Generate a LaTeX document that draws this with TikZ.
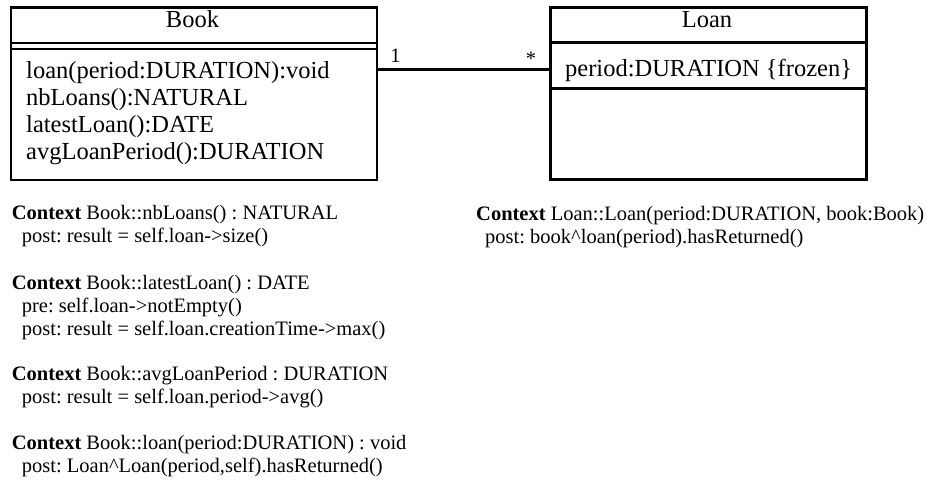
\documentclass[tikz,border=0pt]{standalone}
\usepackage{fontspec}
\setmainfont{Liberation Serif}
\frenchspacing
\begin{document}
\begin{tikzpicture}[x=1pt,y=-1pt,
  classbox/.style={draw, line width=2.6pt, inner sep=0pt, anchor=north west},
  sepline/.style={line width=2.4pt},
  assocline/.style={line width=2.6pt},
  classname/.style={anchor=base, inner sep=0pt, font=\fontsize{24.5}{26.7}\selectfont},
  member/.style={anchor=base west, inner sep=0pt, font=\fontsize{24.5}{26.7}\selectfont},
  ocl/.style={anchor=base west, inner sep=0pt, font=\fontsize{20.5}{23.3}\selectfont},
  mult/.style={anchor=center, inner sep=0pt, font=\fontsize{20.5}{24}\selectfont}]
\useasboundingbox (0,0) rectangle (931,483);

% class boxes
\node[classbox, minimum width=366pt, minimum height=172.5pt] (book) at (9.5,6) {};
\node[classbox, minimum width=316pt, minimum height=172pt] (loan) at (549,6) {};

% Book compartments (double line under the name)
\draw[sepline] ([yshift=-36.7pt]book.north west) -- ([yshift=-36.7pt]book.north east);
\draw[sepline] ([yshift=-42.7pt]book.north west) -- ([yshift=-42.7pt]book.north east);

% Loan compartments
\draw[sepline] ([yshift=-36.3pt]loan.north west) -- ([yshift=-36.3pt]loan.north east);
\draw[sepline] ([yshift=-82.3pt]loan.north west) -- ([yshift=-82.3pt]loan.north east);

% names
\node[classname] (booktitle) at (192.5,27.5) {Book};
\node[classname] (loantitle) at (707,27.5) {Loan};

% Book operations
\node[member] (op1) at (26,78.5) {loan(period:DURATION):void};
\node[member] (op2) at (26,105.5) {nbLoans():NATURAL};
\node[member] (op3) at (26,132.5) {latestLoan():DATE};
\node[member] (op4) at (26,159.3) {avgLoanPeriod():DURATION};

% Loan attribute
\node[member] (attr1) at (565,76.5) {period:DURATION \{frozen\}};

% association
\coordinate (assoc) at (0,69.3);
\draw[assocline] (book.east |- assoc) -- (loan.west |- assoc);
\node[mult] (m1) at (395.5,56) {1};
\node[mult] (m2) at (531,59) {*};

% OCL constraints, left column
\node[ocl] (c1a) at (11.7,219.3) {\textbf{Context} Book::nbLoans() : NATURAL};
\node[ocl] (c1b) at (21.7,242.7) {post: result = self.loan->size()};

\node[ocl] (c2a) at (11.7,289.3) {\textbf{Context} Book::latestLoan() : DATE};
\node[ocl] (c2b) at (21.7,312.3) {pre: self.loan->notEmpty()};
\node[ocl] (c2c) at (21.7,335.3) {post: result = self.loan.creationTime->max()};

\node[ocl] (c3a) at (11.7,380.3) {\textbf{Context} Book::avgLoanPeriod : DURATION};
\node[ocl] (c3b) at (21.7,403.5) {post: result = self.loan.period->avg()};

\node[ocl] (c4a) at (11.7,449.5) {\textbf{Context} Book::loan(period:DURATION) : void};
\node[ocl] (c4b) at (21.7,472.7) {post: Loan\textasciicircum Loan(period,self).hasReturned()};

% OCL constraint, right column
\node[ocl] (c5a) at (476,220) {\textbf{Context} Loan::Loan(period:DURATION, book:Book)};
\node[ocl] (c5b) at (485,243.3) {post: book\textasciicircum loan(period).hasReturned()};
\end{tikzpicture}
\end{document}
